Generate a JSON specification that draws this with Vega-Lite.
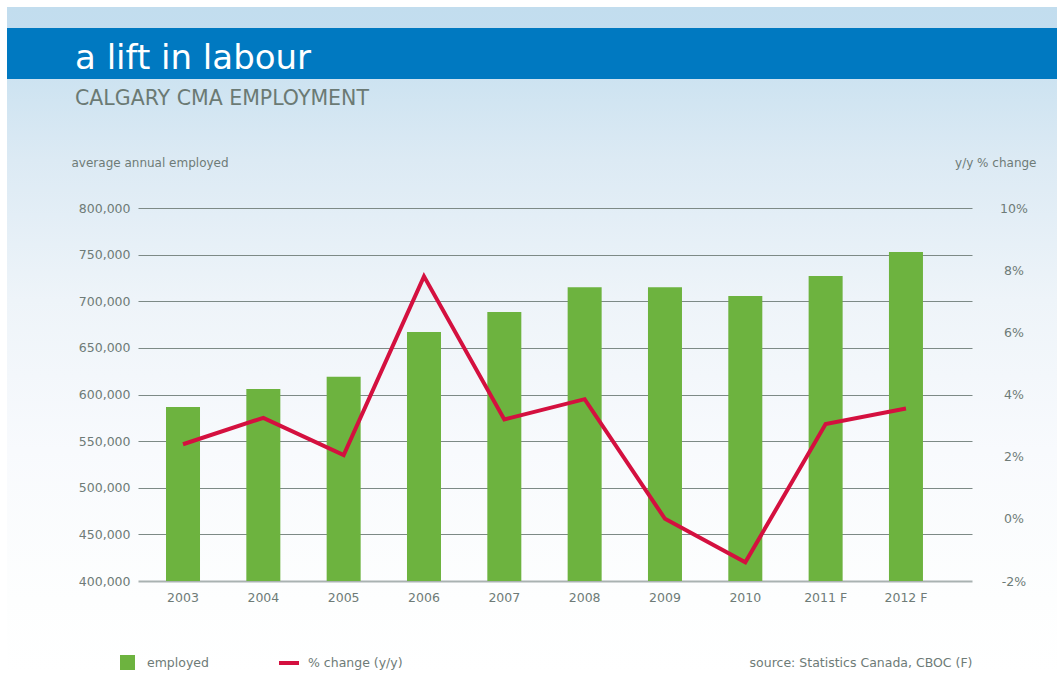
{
  "$schema": "https://vega.github.io/schema/vega-lite/v6.json",
  "width": 1050,
  "height": 666,
  "autosize": {"type": "none"},
  "padding": {"left": 7, "top": 7, "right": 0, "bottom": 0},
  "background": "#ffffff",
  "config": {
    "locale": {"number": {"decimal": ".", "thousands": ",", "grouping": [3], "currency": ["$", ""], "minus": "-"}},
    "font": "DejaVu Sans",
    "view": {
      "stroke": null,
      "fill": {
        "gradient": "linear", "x1": 0, "y1": 0, "x2": 0, "y2": 1,
        "stops": [
          {"offset": 0, "color": "#c2ddee"},
          {"offset": 0.0315, "color": "#c3ddef"},
          {"offset": 0.0316, "color": "#0079c1"},
          {"offset": 0.108, "color": "#0079c1"},
          {"offset": 0.1081, "color": "#cde3f1"},
          {"offset": 0.23, "color": "#dceaf4"},
          {"offset": 0.44, "color": "#eef4f9"},
          {"offset": 0.665, "color": "#f8fafd"},
          {"offset": 0.89, "color": "#fdfefe"},
          {"offset": 1, "color": "#ffffff"}
        ]
      }
    },
    "axis": {
      "labelFont": "DejaVu Sans", "labelColor": "#6e7b77", "labelFontSize": 12.5,
      "titleFont": "DejaVu Sans", "titleFontWeight": "normal", "titleColor": "#6e7b77", "titleFontSize": 12,
      "domain": false, "ticks": false
    },
    "legend": {"labelFont": "DejaVu Sans", "labelColor": "#6e7b77", "labelFontSize": 12.5}
  },
  "title": {
    "text": "a lift in labour",
    "subtitle": "CALGARY CMA EMPLOYMENT",
    "anchor": "start", "frame": "group", "orient": "top",
    "offset": -102, "dx": 68,
    "color": "#ffffff", "fontSize": 34, "fontWeight": "normal", "font": "DejaVu Sans",
    "subtitleColor": "#6b7a74", "subtitleFontSize": 20.5, "subtitleFont": "DejaVu Sans", "subtitleFontWeight": "normal", "subtitlePadding": 13
  },
  "data": {
    "values": [
      {"year": "2003", "employed": 586500, "change": 0.024},
      {"year": "2004", "employed": 606000, "change": 0.0325},
      {"year": "2005", "employed": 619000, "change": 0.0205},
      {"year": "2006", "employed": 667000, "change": 0.078},
      {"year": "2007", "employed": 688500, "change": 0.032},
      {"year": "2008", "employed": 715000, "change": 0.0385},
      {"year": "2009", "employed": 715000, "change": 0.0},
      {"year": "2010", "employed": 705600, "change": -0.014},
      {"year": "2011 F", "employed": 727000, "change": 0.0305},
      {"year": "2012 F", "employed": 752800, "change": 0.0355}
    ]
  },
  "encoding": {
    "x": {
      "field": "year", "type": "ordinal", "sort": null,
      "scale": {"range": [131, 965], "paddingInner": 0.5767, "paddingOuter": 0.4795, "align": 0.3635},
      "axis": {
        "title": "source: Statistics Canada, CBOC (F)",
        "offset": -92, "labelAngle": 0, "labelPadding": 10, "grid": false,
        "titleX": 965, "titleY": 81, "titleAlign": "right", "titleBaseline": "middle", "titleFontSize": 12.5
      }
    }
  },
  "layer": [
    {
      "mark": {"type": "bar"},
      "encoding": {
        "y": {
          "field": "employed", "type": "quantitative",
          "scale": {"domain": [400000, 800000], "range": [574, 201], "nice": false, "zero": false},
          "axis": {
            "values": [400000, 450000, 500000, 550000, 600000, 650000, 700000, 750000, 800000],
            "format": ",.0f", "offset": -127, "labelPadding": 4,
            "grid": true,
            "gridColor": {"condition": {"test": "datum.value === 400000", "value": "#a9b2b1"}, "value": "#7d8a86"},
            "gridWidth": {"condition": {"test": "datum.value === 400000", "value": 2}, "value": 1},
            "title": "average annual employed",
            "titleAngle": 0, "titleX": -63, "titleY": 155, "titleAlign": "left", "titleBaseline": "middle"
          }
        },
        "y2": {"datum": 400000},
        "fill": {
          "datum": "employed",
          "scale": {"range": ["#6db33f"]},
          "legend": {
            "orient": "none", "legendX": 113, "legendY": 648, "title": null,
            "symbolType": "square", "symbolSize": 225, "symbolStrokeWidth": 0, "labelOffset": 12
          }
        }
      }
    },
    {
      "mark": {"type": "line", "strokeWidth": 4, "strokeJoin": "miter"},
      "encoding": {
        "y": {
          "field": "change", "type": "quantitative",
          "scale": {"domain": [-0.02, 0.1], "range": [574, 201], "nice": false, "zero": false},
          "axis": {
            "orient": "right",
            "values": [-0.02, 0, 0.02, 0.04, 0.06, 0.08, 0.1],
            "format": ".0%", "offset": -57, "labelPadding": 13.5, "labelAlign": "center",
            "grid": false,
            "title": "y/y % change",
            "titleAngle": 0, "titleX": 36, "titleY": 155, "titleAlign": "right", "titleBaseline": "middle"
          }
        },
        "stroke": {
          "datum": "% change (y/y)",
          "scale": {"range": ["#d4103f"]},
          "legend": {
            "orient": "none", "legendX": 270, "legendY": 644, "title": null,
            "symbolType": "stroke", "symbolSize": 400, "symbolStrokeWidth": 4, "labelOffset": 7
          }
        }
      }
    }
  ],
  "resolve": {"scale": {"y": "independent"}}
}
